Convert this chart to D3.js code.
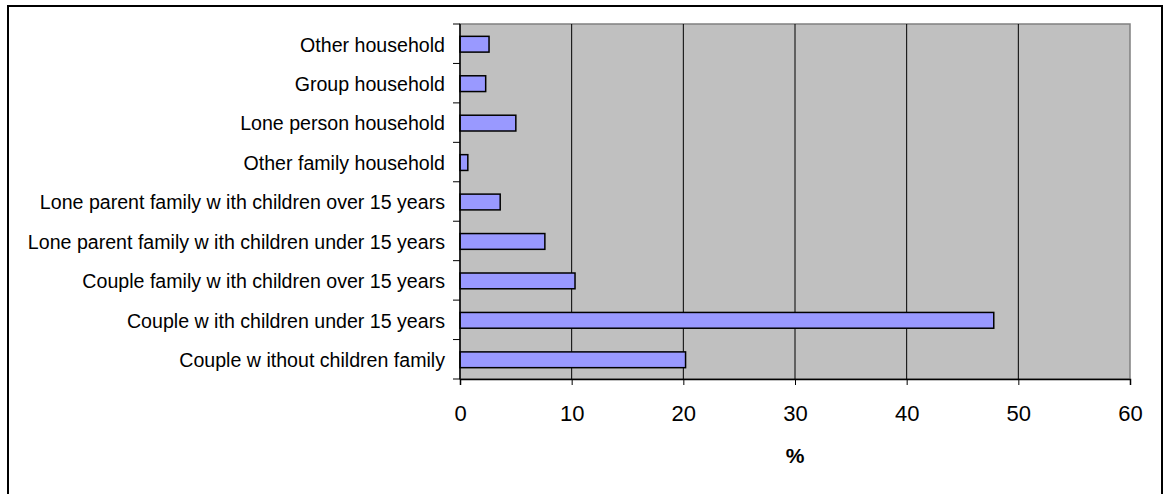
<!DOCTYPE html>
<html>
<head>
<meta charset="utf-8">
<script src="https://cdn.jsdelivr.net/npm/d3@7"></script>
<style>
  body { margin: 0; background: #fff; }
  svg { display: block; font-family: "Liberation Sans", Arial, sans-serif; }
</style>
</head>
<body>
<svg id="chart" width="1164" height="494"></svg>
<script>
// household types, top to bottom as shown
const categories = [
  "Other household",
  "Group household",
  "Lone person household",
  "Other family household",
  "Lone parent family w ith children over 15 years",
  "Lone parent family w ith children under 15 years",
  "Couple family w ith children over 15 years",
  "Couple w ith children under 15 years",
  "Couple w ithout children family"
];
const percent = [2.6, 2.3, 5.0, 0.7, 3.6, 7.6, 10.3, 47.8, 20.2];
const xTicks = [0, 10, 20, 30, 40, 50, 60];

const svg = d3.select("#chart");
const plot = { left: 460, top: 24, right: 1130, bottom: 379 };

// outer frame
svg.append("rect")
  .attr("x", 8).attr("y", 6)
  .attr("width", 1154).attr("height", 520)
  .attr("fill", "none").attr("stroke", "#000").attr("stroke-width", 2);

const x = d3.scaleLinear().domain([0, 60]).range([plot.left, plot.right]);
const y = d3.scaleBand().domain(categories)
  .range([plot.top, plot.bottom])
  .paddingInner(0.6).paddingOuter(0.3);

// plot background
svg.append("rect")
  .attr("x", plot.left).attr("y", plot.top)
  .attr("width", plot.right - plot.left).attr("height", plot.bottom - plot.top)
  .attr("fill", "#c0c0c0").attr("stroke", "#808080").attr("stroke-width", 1.5);

// gridlines
svg.append("g").selectAll("line")
  .data(xTicks.filter(t => t > 0 && t < 60))
  .join("line")
  .attr("x1", d => x(d)).attr("x2", d => x(d))
  .attr("y1", plot.top).attr("y2", plot.bottom)
  .attr("stroke", "#000").attr("stroke-width", 1);

// bars
svg.append("g").selectAll("rect")
  .data(percent)
  .join("rect")
  .attr("x", x(0))
  .attr("y", (d, i) => y(categories[i]) + 0.5)
  .attr("width", d => x(d) - x(0))
  .attr("height", y.bandwidth())
  .attr("fill", "#9999ff").attr("stroke", "#000").attr("stroke-width", 1.5);

// x axis
const xAxis = svg.append("g")
  .attr("transform", `translate(0,${plot.bottom})`)
  .call(d3.axisBottom(x).tickValues(xTicks).tickSize(6).tickPadding(20));
xAxis.select(".domain").attr("stroke", "#000").attr("stroke-width", 1.5);
xAxis.selectAll(".tick line").attr("stroke", "#000");
xAxis.selectAll("text").attr("font-size", 22).attr("fill", "#000")
  .attr("font-family", "Liberation Sans, Arial, sans-serif");

// y axis: labels centred on bands, ticks on band boundaries
const bounds = d3.range(categories.length + 1).map(i => plot.top + i * (plot.bottom - plot.top) / categories.length);
const yAxis = svg.append("g");
yAxis.append("line")
  .attr("x1", plot.left).attr("x2", plot.left)
  .attr("y1", plot.top).attr("y2", plot.bottom)
  .attr("stroke", "#000").attr("stroke-width", 1.5);
yAxis.selectAll(".bt").data(bounds).join("line")
  .attr("class", "bt")
  .attr("x1", plot.left - 7).attr("x2", plot.left)
  .attr("y1", d => d).attr("y2", d => d)
  .attr("stroke", "#000");
yAxis.selectAll("text").data(categories).join("text")
  .attr("x", plot.left - 15)
  .attr("y", d => y(d) + y.bandwidth() / 2 + 1)
  .attr("dy", "0.35em")
  .attr("text-anchor", "end")
  .attr("font-size", 19.6)
  .text(d => d);

// axis title
svg.append("text")
  .attr("x", (plot.left + plot.right) / 2)
  .attr("y", 463)
  .attr("text-anchor", "middle")
  .attr("font-size", 21).attr("font-weight", "bold")
  .text("%");
</script>
</body>
</html>
